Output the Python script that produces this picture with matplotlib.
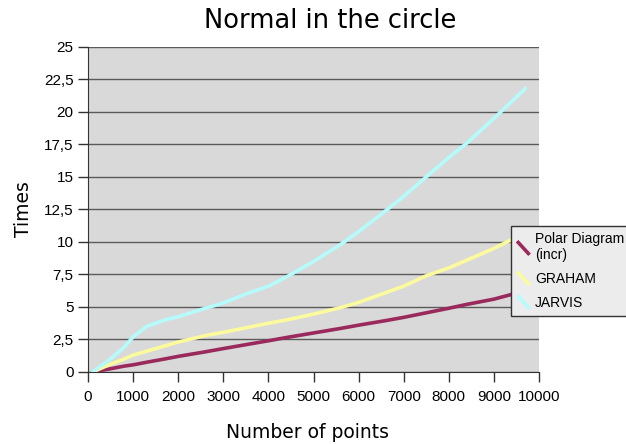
import matplotlib.pyplot as plt
from matplotlib.legend_handler import HandlerBase
from matplotlib.lines import Line2D
from matplotlib.ticker import FuncFormatter

# values
points = [100, 500, 800, 1000, 1300, 1700, 2000, 2600, 3000, 3500, 4000, 4400,
          5000, 5600, 6000, 6600, 7000, 7500, 8000, 8400, 9000, 9700]
polar = [0.0, 0.25, 0.45, 0.55, 0.75, 1.0, 1.2, 1.55, 1.8, 2.1, 2.4, 2.65,
         3.0, 3.35, 3.6, 3.95, 4.2, 4.55, 4.9, 5.2, 5.6, 6.25]
graham = [0.0, 0.6, 1.0, 1.3, 1.6, 2.0, 2.3, 2.8, 3.05, 3.4, 3.75, 4.0,
          4.45, 4.95, 5.35, 6.1, 6.6, 7.4, 8.0, 8.6, 9.5, 10.7]
jarvis = [0.0, 1.0, 1.9, 2.7, 3.5, 4.0, 4.25, 4.9, 5.3, 6.0, 6.6, 7.3,
          8.5, 9.8, 10.8, 12.4, 13.5, 15.0, 16.5, 17.6, 19.5, 21.8]

labels = ["Polar Diagram\n(incr)", "GRAHAM", "JARVIS"]
colors = ["#9b2a5c", "#fbfb9e", "#b6fbfb"]


class DiagonalHandler(HandlerBase):
    def create_artists(self, legend, orig, xdescent, ydescent, width, height, fontsize, trans):
        line = Line2D([0.0, width], [height * 1.2, -0.2 * height],
                      color=orig.get_color(), linewidth=orig.get_linewidth(),
                      solid_capstyle="butt")
        line.set_transform(trans)
        return [line]


fig = plt.figure(figsize=(6.26, 4.44), dpi=100)
ax = fig.add_axes([0.1406, 0.1622, 0.7204, 0.7322])
ax.set_facecolor("#d9d9d9")

lines = []
for ys, c in zip([polar, graham, jarvis], colors):
    (ln,) = ax.plot(points, ys, color=c, linewidth=2.6, solid_capstyle="round", zorder=3)
    lines.append(ln)

ax.set_xlim(0, 10000)
ax.set_ylim(0, 25)
ax.set_xticks(range(0, 10001, 1000))
ax.set_yticks([i * 2.5 for i in range(11)])
ax.yaxis.set_major_formatter(FuncFormatter(lambda v, p: f"{v:g}".replace(".", ",")))
ax.grid(axis="y", color="#5a5a5a", linewidth=1.0)
ax.set_axisbelow(True)

for s in ["top", "right"]:
    ax.spines[s].set_visible(False)
ax.spines["left"].set_color("#333333")
ax.spines["bottom"].set_color("#333333")
ax.tick_params(direction="out", length=7, width=1, color="#333333",
               labelsize=11, labelcolor="black")
ax.tick_params(axis="x", pad=6)
for t in ax.get_xticklabels() + ax.get_yticklabels():
    t.set_family("Liberation Sans")

fig.text(0.527, 0.952, "Normal in the circle", fontsize=18.5, ha="center", va="center",
         family="DejaVu Sans")
fig.text(0.492, 0.027, "Number of points", fontsize=13.5, ha="center", va="center",
         family="DejaVu Sans")
ax.set_ylabel("Times", fontsize=13.5, labelpad=8)

leg = fig.legend(lines, labels, loc="upper left", bbox_to_anchor=(0.816, 0.491),
                 handler_map={Line2D: DiagonalHandler()}, fancybox=False,
                 framealpha=1, facecolor="#ececec", edgecolor="#333333",
                 prop={"family": "Liberation Sans", "size": 10},
                 handlelength=0.9, handletextpad=0.4, labelspacing=0.7,
                 borderpad=0.45, borderaxespad=0)
leg.get_frame().set_linewidth(1.0)

fig.savefig("out.png", dpi=100)
